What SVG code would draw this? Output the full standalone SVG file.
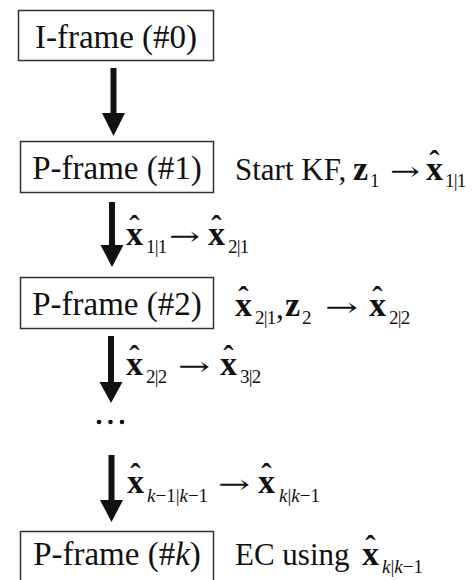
<svg xmlns="http://www.w3.org/2000/svg" width="476" height="580" viewBox="0 0 476 580">
  <style>
    .box { fill: #fff; stroke: #333; stroke-width: 1.5; }
    .lbl { font-family: "Liberation Serif", "Times New Roman", serif; font-size: 33px; fill: #111; }
    .note { font-family: "Liberation Serif", "Times New Roman", serif; font-size: 31px; fill: #111; }
    .mb { font-family: "Liberation Serif", "Times New Roman", serif; font-size: 34px; font-weight: bold; fill: #111; }
    .hat { font-size: 31px; }
    .sub { font-family: "Liberation Serif", "Times New Roman", serif; font-size: 19px; fill: #111; }
    .tight { letter-spacing: -0.8px; }
    .it { font-style: italic; }
    .op { font-family: "DejaVu Serif", "Liberation Serif", serif; font-size: 26px; fill: #111; }
    .arrow { fill: #111; }
  </style>

  <rect width="476" height="580" fill="#fff"/>

  <!-- frame nodes -->
  <g id="iframe0">
    <rect class="box" x="18.5" y="10.5" width="195" height="50"/>
    <text class="lbl" x="116" y="48" text-anchor="middle">I-frame (#0)</text>
  </g>
  <g id="pframe1">
    <rect class="box" x="20.5" y="141.5" width="193" height="51"/>
    <text class="lbl" x="117" y="179" text-anchor="middle">P-frame (#1)</text>
  </g>
  <g id="pframe2">
    <rect class="box" x="20.5" y="277.5" width="193" height="51"/>
    <text class="lbl" x="117" y="315" text-anchor="middle">P-frame (#2)</text>
  </g>
  <g id="pframek">
    <rect class="box" x="20.5" y="531.5" width="193" height="52"/>
    <text class="lbl" x="117" y="565" text-anchor="middle">P-frame (#<tspan class="it">k</tspan>)</text>
  </g>

  <!-- connectors: thick down arrows -->
  <g id="connectors">
    <path class="arrow" d="M110.5 68 H116.5 V113 H125 L113.5 136 L102 113 H110.5 Z"/>
    <path class="arrow" d="M109 202 H115 V245 H123.5 L112 267 L100.5 245 H109 Z"/>
    <path class="arrow" d="M108 336 H114 V382 H122.5 L111 403 L99.5 382 H108 Z"/>
    <path class="arrow" d="M108.5 455 H114.5 V500 H123 L111.5 522 L100 500 H108.5 Z"/>
    <circle cx="99" cy="422" r="2.3" fill="#111"/>
    <circle cx="110.5" cy="422" r="2.3" fill="#111"/>
    <circle cx="122" cy="422" r="2.3" fill="#111"/>
  </g>

  <!-- filter annotations (x-hat = bold x with a circumflex tspan pulled back over it) -->
  <g id="ann-p1">
    <text class="note" x="235" y="180">Start KF,</text>
    <text class="mb" x="353" y="180">z</text>
    <text class="sub" x="370" y="187">1</text>
    <text class="op" x="390" y="180" textLength="30" lengthAdjust="spacingAndGlyphs">→</text>
    <text class="mb" x="426" y="180">x<tspan class="hat" dx="-13.8" dy="-8">ˆ</tspan></text>
    <text class="sub tight" x="445" y="187">1|1</text>
  </g>

  <g id="ann-a2">
    <text class="mb" x="126" y="245">x<tspan class="hat" dx="-13.8" dy="-8">ˆ</tspan></text>
    <text class="sub tight" x="146" y="253">1|1</text>
    <text class="op" x="169" y="245" textLength="31" lengthAdjust="spacingAndGlyphs">→</text>
    <text class="mb" x="208" y="245">x<tspan class="hat" dx="-13.8" dy="-8">ˆ</tspan></text>
    <text class="sub tight" x="228" y="253">2|1</text>
  </g>

  <g id="ann-p2">
    <text class="mb" x="235" y="316">x<tspan class="hat" dx="-13.8" dy="-8">ˆ</tspan></text>
    <text class="sub tight" x="255" y="324">2|1</text>
    <text class="note" x="276" y="318">,</text>
    <text class="mb" x="285" y="316">z</text>
    <text class="sub" x="302" y="324">2</text>
    <text class="op" x="325" y="316" textLength="33" lengthAdjust="spacingAndGlyphs">→</text>
    <text class="mb" x="369" y="316">x<tspan class="hat" dx="-13.8" dy="-8">ˆ</tspan></text>
    <text class="sub tight" x="389" y="324">2|2</text>
  </g>

  <g id="ann-a3">
    <text class="mb" x="126" y="375">x<tspan class="hat" dx="-13.8" dy="-8">ˆ</tspan></text>
    <text class="sub tight" x="146" y="383">2|2</text>
    <text class="op" x="178" y="375" textLength="32" lengthAdjust="spacingAndGlyphs">→</text>
    <text class="mb" x="220" y="375">x<tspan class="hat" dx="-13.8" dy="-8">ˆ</tspan></text>
    <text class="sub tight" x="240" y="383">3|2</text>
  </g>

  <g id="ann-a4">
    <text class="mb" x="127" y="493">x<tspan class="hat" dx="-13.8" dy="-8">ˆ</tspan></text>
    <text class="sub" x="147" y="502"><tspan class="it">k</tspan>−1|<tspan class="it">k</tspan>−1</text>
    <text class="op" x="218" y="493" textLength="32" lengthAdjust="spacingAndGlyphs">→</text>
    <text class="mb" x="258" y="493">x<tspan class="hat" dx="-13.8" dy="-8">ˆ</tspan></text>
    <text class="sub" x="279" y="502"><tspan class="it">k</tspan>|<tspan class="it">k</tspan>−1</text>
  </g>

  <g id="ann-pk">
    <text class="note" x="235" y="565">EC using</text>
    <text class="mb" x="362" y="565">x<tspan class="hat" dx="-13.8" dy="-8">ˆ</tspan></text>
    <text class="sub" x="382" y="573"><tspan class="it">k</tspan>|<tspan class="it">k</tspan>−1</text>
  </g>
</svg>
